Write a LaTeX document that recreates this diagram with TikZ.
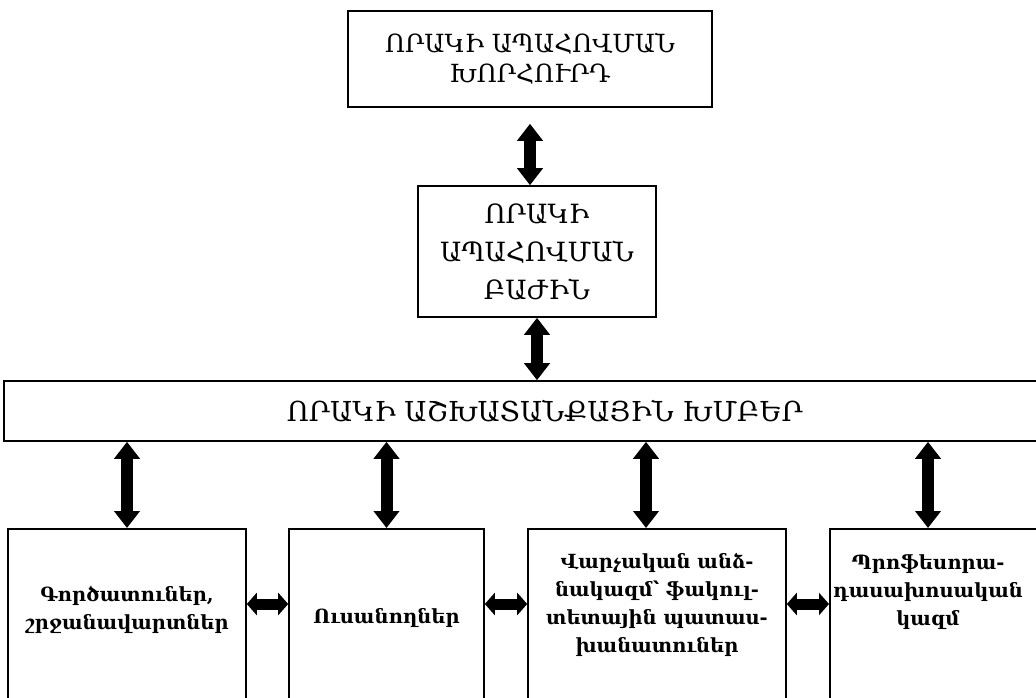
\documentclass[tikz,border=0pt]{standalone}
\usepackage{fontspec}
\setmainfont{DejaVu Serif}
\usetikzlibrary{arrows.meta}
\begin{document}
\begin{tikzpicture}[x=1pt,y=-1pt,
  box/.style={draw, line width=1.6pt, inner sep=0pt, align=center},
  smalltext/.style={align=center, inner sep=0pt, font=\fontsize{19.5}{28}\selectfont\bfseries},
  vdbl/.style={line width=12pt, {Triangle[width=25pt,length=17pt]}-{Triangle[width=25pt,length=17pt]}},
  hdbl/.style={line width=11pt, {Triangle[width=22pt,length=10pt]}-{Triangle[width=22pt,length=10pt]}},
]
\useasboundingbox (0,0) rectangle (1036,698);
\clip (0,0) rectangle (1036,698);

% boxes
\node[box, font=\fontsize{25}{30}\selectfont, minimum width=364pt, minimum height=96pt] (top) at (530,59)
  {ՈՐԱԿԻ ԱՊԱՀՈՎՄԱՆ\\ԽՈՐՀՈՒՐԴ};
\node[box, font=\fontsize{26.5}{38}\selectfont, minimum width=238pt, minimum height=131pt] (mid) at (537,251.5)
  {ՈՐԱԿԻ\\ԱՊԱՀՈՎՄԱՆ\\ԲԱԺԻՆ};
\node[box, font=\fontsize{27.5}{30}\selectfont, minimum width=1082pt, minimum height=60pt] (wide) at (545,411)
  {ՈՐԱԿԻ ԱՇԽԱՏԱՆՔԱՅԻՆ ԽՄԲԵՐ};

\node[box, minimum width=238pt, minimum height=200pt, anchor=north] (b1) at (127,528) {};
\node[box, minimum width=195pt, minimum height=200pt, anchor=north] (b2) at (386.5,528) {};
\node[box, minimum width=258pt, minimum height=200pt, anchor=north] (b3) at (657,528) {};
\node[box, minimum width=216pt, minimum height=200pt, anchor=north west] (b4) at (829,528) {};

% texts of the lower boxes
\node[smalltext] (t1) at (127,610) {Գործատուներ,\\շրջանավարտներ};
\node[smalltext] (t2) at (386.5,618) {Ուսանողներ};
\node[smalltext] (t3) at (657,605) {Վարչական անձ-\\նակազմ՝ ֆակուլ-\\տետային պատաս-\\խանատուներ};
\node[smalltext] (t4) at (928,592) {Պրոֆեսորա-\\դասախոսական\\կազմ};

% vertical arrows
\draw[vdbl, shorten <=16pt] (top.south) -- (top.south |- mid.north);
\draw[vdbl] (mid.south) -- (mid.south |- wide.north);
\draw[vdbl] (b1.north |- wide.south) -- (b1.north);
\draw[vdbl] (b2.north |- wide.south) -- (b2.north);
\draw[vdbl] ([xshift=-11pt]b3.north |- wide.south) -- ([xshift=-11pt]b3.north);
\draw[vdbl] (t4.north |- wide.south) -- (t4.north |- b4.north);

% horizontal arrows
\coordinate (hy) at (0,604);
\draw[hdbl] (b1.east |- hy) -- (b2.west |- hy);
\draw[hdbl] (b2.east |- hy) -- (b3.west |- hy);
\draw[hdbl] (b3.east |- hy) -- (b4.west |- hy);
\end{tikzpicture}
\end{document}
